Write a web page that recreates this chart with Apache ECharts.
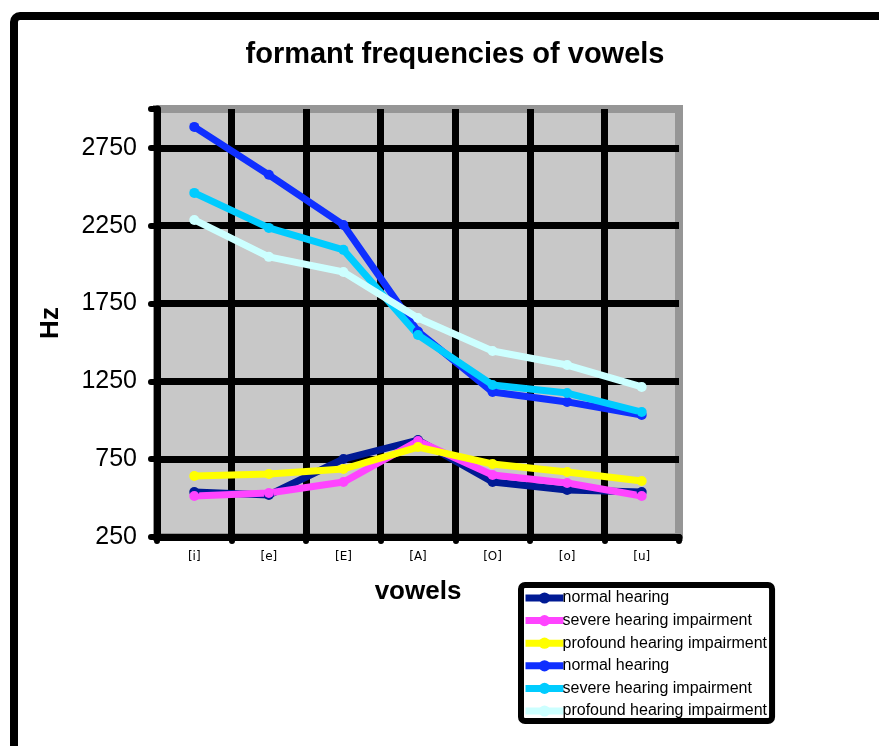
<!DOCTYPE html>
<html>
<head>
<meta charset="utf-8">
<script src="https://cdn.jsdelivr.net/npm/echarts@6/dist/echarts.min.js"></script>
<style>
html,body{margin:0;padding:0;background:#fff;}
#chart{width:879px;height:746px;}
</style>
</head>
<body>
<div id="chart"></div>
<script>
var vowels = ['[i]', '[e]', '[E]', '[A]', '[O]', '[o]', '[u]'];
var groupNames = ['normal hearing', 'severe hearing impairment', 'profound hearing impairment'];
// first formant
var normalF1   = [539, 520, 751, 873, 603, 552, 539];
var severeF1   = [513, 533, 603, 867, 648, 597, 513];
var profoundF1 = [642, 655, 687, 828, 719, 668, 610];
// second formant
var normalF2   = [2885, 2577, 2255, 1570, 1182, 1118, 1034];
var severeF2   = [2461, 2236, 2095, 1548, 1227, 1175, 1053];
var profoundF2 = [2287, 2050, 1953, 1657, 1445, 1355, 1214];

var colors = ['#001a94', '#ff44ff', '#ffff00', '#0f2fff', '#00ccff', '#ccffff'];
var allData = [normalF1, severeF1, profoundF1, normalF2, severeF2, profoundF2];

var chart = echarts.init(document.getElementById('chart'));

// series names need to be unique for the legend, suffix is stripped when shown
var series = [], legendData = [];
for (var i = 0; i < allData.length; i++) {
	var nm = groupNames[i % 3] + '|' + (i < 3 ? 'F1' : 'F2');
	legendData.push(nm);
	series.push({
		name: nm,
		type: 'line',
		data: allData[i],
		symbol: 'circle',
		symbolSize: 10,
		lineStyle: {color: colors[i], width: 7},
		itemStyle: {color: colors[i]}
	});
}

var option = {
	animation: false,
	color: colors,
	title: {
		text: 'formant frequencies of vowels',
		left: 450,
		textAlign: 'center',
		top: 35,
		textStyle: {fontFamily: 'Liberation Sans', fontWeight: 'bold', fontSize: 29, color: '#000'}
	},
	graphic: [{
		type: 'rect',
		shape: {x: 14, y: 16, width: 2000, height: 2000, r: 6},
		style: {fill: 'none', stroke: '#000', lineWidth: 8},
		z: -1
	}],
	grid: {
		left: 157,
		right: 200,
		top: 109,
		bottom: 209,
		show: true,
		backgroundColor: '#c8c8c8',
		borderColor: '#969696',
		borderWidth: 8
	},
	legend: {
		orient: 'vertical',
		left: 521,
		top: 585,
		data: legendData,
		formatter: function(n) { return n.split('|')[0]; },
		itemWidth: 38,
		itemHeight: 14,
		itemGap: 6.6,
		padding: [5, 5, 2, 1],
		backgroundColor: '#fff',
		borderColor: '#000',
		borderWidth: 6,
		borderRadius: 4,
		lineStyle: {width: 7},
		textStyle: {fontFamily: 'Liberation Sans', fontSize: 16, color: '#000', padding: [0, 0, 0, -6]}
	},
	xAxis: {
		type: 'category',
		data: vowels,
		name: 'vowels',
		nameLocation: 'middle',
		nameGap: 42,
		nameTextStyle: {fontFamily: 'Liberation Sans', fontWeight: 'bold', fontSize: 26, color: '#000'},
		axisLine: {lineStyle: {color: '#000', width: 7, cap: 'round'}},
		axisTick: {show: true, length: 4, lineStyle: {color: '#000', width: 6, cap: 'round'}},
		axisLabel: {fontFamily: 'DejaVu Sans', fontSize: 12, color: '#000', margin: 14},
		splitLine: {show: true, showMinLine: false, showMaxLine: false, interval: 0, lineStyle: {color: '#000', width: 7}}
	},
	yAxis: {
		type: 'value',
		min: 250,
		max: 3000,
		interval: 500,
		name: 'Hz',
		nameLocation: 'middle',
		nameGap: 93,
		nameRotate: 90,
		nameTextStyle: {fontFamily: 'Liberation Sans', fontWeight: 'bold', fontSize: 26, color: '#000'},
		axisLine: {show: true, lineStyle: {color: '#000', width: 7, cap: 'round'}},
		axisTick: {show: true, length: 6, lineStyle: {color: '#000', width: 6, cap: 'round'}},
		axisLabel: {
			fontFamily: 'Liberation Sans', fontSize: 25, color: '#000', margin: 20,
			formatter: function(v) { return v === 3000 ? '' : v; }
		},
		splitLine: {show: true, showMinLine: false, showMaxLine: false, lineStyle: {color: '#000', width: 7}}
	},
	series: series
};

chart.setOption(option);
</script>
</body>
</html>
